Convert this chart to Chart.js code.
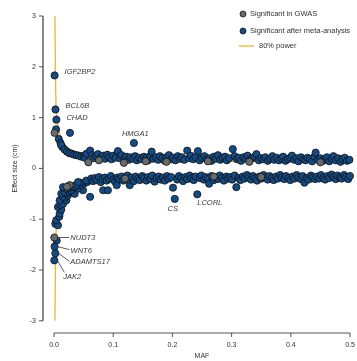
<!DOCTYPE html>
<html>
<head>
<meta charset="utf-8">
<script src="https://cdn.jsdelivr.net/npm/chart.js@4.4.1/dist/chart.umd.min.js"></script>
<style>
  body { margin: 0; background: #fff; }
  canvas { display: block; }
</style>
</head>
<body>
<canvas id="myChart" width="357" height="361"></canvas>
<script>
// variants significant in the discovery GWAS only  [MAF, effect (cm)]
var gwasPoints = [
  [0.001, 0.70], [0.058, 0.12], [0.076, 0.16], [0.118, 0.11], [0.155, 0.14],
  [0.19, 0.13], [0.26, 0.14], [0.33, 0.13], [0.45, 0.12],
  [0.0005, -1.36], [0.0265, -0.33], [0.022, -0.36], [0.12, -0.2], [0.27, -0.16], [0.35, -0.17]
];

// variants significant after the meta-analysis  [MAF, effect (cm)]
var metaUpper = [
  [0.001, 1.83], [0.0025, 1.16], [0.004, 0.96], [0.0035, 0.77], [0.027, 0.70],
  [0.008, 0.58], [0.011, 0.50], [0.014, 0.42], [0.012, 0.46], [0.018, 0.37], [0.022, 0.33],
  [0.026, 0.30], [0.03, 0.29], [0.034, 0.27], [0.038, 0.26], [0.042, 0.25], [0.046, 0.23],
  [0.05, 0.25], [0.052, 0.21], [0.055, 0.29], [0.061, 0.35], [0.064, 0.26], [0.067, 0.2],
  [0.071, 0.24], [0.074, 0.28], [0.079, 0.21], [0.083, 0.25], [0.086, 0.19], [0.09, 0.27],
  [0.093, 0.22], [0.097, 0.18], [0.1, 0.25], [0.104, 0.21], [0.108, 0.34], [0.111, 0.2],
  [0.114, 0.26], [0.119, 0.19], [0.122, 0.23], [0.126, 0.17], [0.129, 0.22], [0.133, 0.19],
  [0.135, 0.5], [0.137, 0.24], [0.14, 0.16], [0.144, 0.21], [0.148, 0.18], [0.152, 0.23],
  [0.156, 0.2], [0.159, 0.16], [0.163, 0.25], [0.165, 0.33], [0.168, 0.19], [0.172, 0.22],
  [0.176, 0.17], [0.179, 0.24], [0.183, 0.2], [0.187, 0.15], [0.19, 0.22], [0.194, 0.26],
  [0.198, 0.18], [0.201, 0.21], [0.205, 0.16], [0.209, 0.24], [0.213, 0.19], [0.216, 0.22],
  [0.22, 0.17], [0.225, 0.35], [0.228, 0.2], [0.231, 0.25], [0.235, 0.18], [0.239, 0.22],
  [0.243, 0.34], [0.246, 0.16], [0.25, 0.21], [0.254, 0.24], [0.258, 0.18], [0.262, 0.2],
  [0.266, 0.15], [0.27, 0.23], [0.273, 0.19], [0.277, 0.26], [0.281, 0.17], [0.285, 0.21],
  [0.289, 0.23], [0.292, 0.16], [0.296, 0.2], [0.302, 0.38], [0.305, 0.24], [0.309, 0.18],
  [0.312, 0.21], [0.316, 0.15], [0.32, 0.22], [0.324, 0.19], [0.327, 0.25], [0.331, 0.17],
  [0.335, 0.2], [0.339, 0.23], [0.342, 0.28], [0.346, 0.16], [0.35, 0.2], [0.354, 0.18],
  [0.357, 0.22], [0.361, 0.15], [0.365, 0.19], [0.369, 0.24], [0.372, 0.17], [0.376, 0.21],
  [0.38, 0.16], [0.384, 0.2], [0.387, 0.23], [0.391, 0.15], [0.395, 0.18], [0.399, 0.21],
  [0.402, 0.25], [0.406, 0.17], [0.41, 0.2], [0.413, 0.14], [0.417, 0.22], [0.421, 0.18],
  [0.425, 0.16], [0.428, 0.21], [0.432, 0.19], [0.436, 0.14], [0.44, 0.23], [0.442, 0.31],
  [0.446, 0.17], [0.45, 0.2], [0.454, 0.15], [0.458, 0.18], [0.461, 0.22], [0.465, 0.14],
  [0.469, 0.19], [0.472, 0.24], [0.476, 0.16], [0.48, 0.2], [0.484, 0.13], [0.487, 0.18],
  [0.491, 0.21], [0.495, 0.15], [0.499, 0.17]
];

var metaLower = [
  [0.0005, -1.81], [0.0022, -1.67], [0.001, -1.54], [0.0045, -1.42], [0.0022, -1.09],
  [0.0067, -1.12], [0.0039, -1.02], [0.009, -0.95], [0.0096, -0.89], [0.0123, -0.81],
  [0.0067, -0.76], [0.011, -0.72], [0.0152, -0.70], [0.0096, -0.63], [0.0207, -0.63],
  [0.018, -0.58], [0.0152, -0.56], [0.0236, -0.53], [0.0123, -0.50], [0.0349, -0.50],
  [0.022, -0.49], [0.018, -0.47], [0.025, -0.45], [0.0292, -0.43], [0.049, -0.43],
  [0.0207, -0.40], [0.04, -0.40], [0.027, -0.38], [0.0152, -0.37], [0.0349, -0.37],
  [0.031, -0.35], [0.046, -0.33], [0.038, -0.32], [0.05, -0.30], [0.044, -0.28],
  [0.0405, -0.27], [0.056, -0.27], [0.0545, -0.24], [0.061, -0.56], [0.063, -0.20],
  [0.066, -0.25], [0.069, -0.19], [0.072, -0.23], [0.076, -0.17], [0.079, -0.27],
  [0.082, -0.21], [0.083, -0.43], [0.086, -0.18], [0.089, -0.24], [0.091, -0.43],
  [0.093, -0.2], [0.096, -0.15], [0.1, -0.22], [0.103, -0.26], [0.106, -0.33],
  [0.107, -0.18], [0.11, -0.21], [0.114, -0.16], [0.117, -0.24], [0.121, -0.19],
  [0.124, -0.14], [0.128, -0.33], [0.128, -0.22], [0.131, -0.18], [0.135, -0.25],
  [0.138, -0.16], [0.142, -0.2], [0.145, -0.23], [0.149, -0.15], [0.152, -0.19],
  [0.156, -0.24], [0.159, -0.17], [0.163, -0.21], [0.166, -0.14], [0.17, -0.26],
  [0.173, -0.19], [0.177, -0.16], [0.18, -0.22], [0.184, -0.18], [0.187, -0.24],
  [0.191, -0.15], [0.194, -0.2], [0.198, -0.17], [0.201, -0.38], [0.204, -0.6],
  [0.208, -0.22], [0.211, -0.15], [0.215, -0.19], [0.218, -0.25], [0.222, -0.17],
  [0.225, -0.21], [0.229, -0.14], [0.232, -0.2], [0.236, -0.23], [0.239, -0.16],
  [0.242, -0.51], [0.246, -0.19], [0.249, -0.14], [0.253, -0.22], [0.256, -0.17],
  [0.26, -0.2], [0.262, -0.3], [0.266, -0.15], [0.27, -0.23], [0.273, -0.18],
  [0.277, -0.21], [0.28, -0.14], [0.284, -0.19], [0.287, -0.24], [0.291, -0.16],
  [0.294, -0.2], [0.298, -0.17], [0.301, -0.22], [0.305, -0.14], [0.308, -0.37],
  [0.312, -0.19], [0.315, -0.23], [0.319, -0.16], [0.322, -0.2], [0.326, -0.13],
  [0.329, -0.18], [0.333, -0.22], [0.336, -0.15], [0.34, -0.19], [0.343, -0.24],
  [0.347, -0.16], [0.35, -0.2], [0.354, -0.13], [0.357, -0.18], [0.361, -0.22],
  [0.364, -0.15], [0.368, -0.19], [0.371, -0.23], [0.375, -0.16], [0.378, -0.2],
  [0.382, -0.13], [0.385, -0.18], [0.389, -0.21], [0.392, -0.15], [0.396, -0.19],
  [0.399, -0.23], [0.403, -0.16], [0.406, -0.2], [0.41, -0.13], [0.413, -0.18],
  [0.417, -0.21], [0.42, -0.15], [0.423, -0.28], [0.427, -0.19], [0.43, -0.22],
  [0.434, -0.14], [0.437, -0.18], [0.441, -0.21], [0.444, -0.16], [0.448, -0.2],
  [0.451, -0.13], [0.455, -0.18], [0.458, -0.22], [0.462, -0.15], [0.465, -0.19],
  [0.469, -0.12], [0.472, -0.17], [0.476, -0.21], [0.479, -0.14], [0.483, -0.18],
  [0.486, -0.2], [0.49, -0.13], [0.493, -0.17], [0.497, -0.21], [0.5, -0.15]
];

// 80% power threshold
var powerMaf = [0.0015, 0.002, 0.0025, 0.003, 0.004, 0.006, 0.009, 0.013, 0.018, 0.025,
                0.035, 0.05, 0.07, 0.1, 0.15, 0.2, 0.3, 0.4, 0.5];
var powerUp  = [3.0, 2.4, 1.85, 1.45, 1.12, 0.88, 0.7, 0.57, 0.47, 0.39,
                0.32, 0.26, 0.22, 0.19, 0.16, 0.15, 0.14, 0.13, 0.13];
var powerDown = [-3.0, -2.4, -1.85, -1.45, -1.12, -0.88, -0.7, -0.57, -0.47, -0.39,
                 -0.32, -0.26, -0.22, -0.19, -0.16, -0.15, -0.14, -0.13, -0.13];

var xTicks = [0.0, 0.1, 0.2, 0.3, 0.4, 0.5];
var yTicks = [-3, -2, -1, 0, 1, 2, 3];

// named loci: gene, MAF, effect
var genes = [
  ['IGF2BP2', 0.001, 1.83], ['BCL6B', 0.0025, 1.16], ['CHAD', 0.004, 0.96],
  ['HMGA1', 0.135, 0.5], ['CS', 0.204, -0.6], ['LCORL', 0.242, -0.51],
  ['NUDT3', 0.0005, -1.36], ['WNT6', 0.001, -1.54], ['ADAMTS17', 0.0022, -1.67],
  ['JAK2', 0.0005, -1.81]
];
// where each gene name sits relative to its point (px), and optional leader end
var geneLabelPos = {
  IGF2BP2: { dx: 10, dy: -4, align: 'left' },
  BCL6B: { dx: 10, dy: -4, align: 'left' },
  CHAD: { dx: 10, dy: -2, align: 'left' },
  HMGA1: { dx: -12, dy: -9, align: 'left' },
  CS: { dx: -2, dy: 10, align: 'center' },
  LCORL: { dx: 0, dy: 9, align: 'left' },
  NUDT3: { dx: 16, dy: 0, align: 'left', lead: [15, 0] },
  WNT6: { dx: 16, dy: 4, align: 'left', lead: [15, 3] },
  ADAMTS17: { dx: 15, dy: 9, align: 'left', lead: [14, 8] },
  JAK2: { dx: 9, dy: 17, align: 'left', lead: [10, 12] }
};

var BLUE = '#124b86';
var GREY = '#6a6a6a';
var ORANGE = '#f7b031';
var FONT = '"Liberation Sans", Arial, sans-serif';

function toXY(list) {
  return list.map(function (p) { return { x: p[0], y: p[1] }; });
}
function powerXY(ys) {
  return powerMaf.map(function (m, i) { return { x: m, y: ys[i] }; });
}

var pointStyle = {
  pointRadius: 3.6,
  pointBorderWidth: 0.8,
  pointBorderColor: '#111',
  showLine: false,
  clip: false
};

var axesPlugin = {
  id: 'axesPlugin',
  afterDraw: function (chart) {
    var c = chart.ctx;
    var xs = chart.scales.x, ys = chart.scales.y;
    var area = chart.chartArea;
    c.save();

    // y axis, offset to the left of the data
    c.strokeStyle = '#555';
    c.lineWidth = 1.4;
    c.beginPath();
    c.moveTo(area.left, ys.getPixelForValue(3));
    c.lineTo(area.left, ys.getPixelForValue(-3));
    c.stroke();
    c.lineWidth = 1;
    c.fillStyle = '#333';
    c.font = '7px ' + FONT;
    c.textAlign = 'right';
    c.textBaseline = 'middle';
    yTicks.forEach(function (t) {
      var py = ys.getPixelForValue(t);
      c.beginPath();
      c.moveTo(area.left - 4, py);
      c.lineTo(area.left, py);
      c.stroke();
      c.fillText(String(t), area.left - 7, py);
    });

    // x axis along the bottom
    c.beginPath();
    c.moveTo(xs.getPixelForValue(0), area.bottom);
    c.lineTo(xs.getPixelForValue(0.5), area.bottom);
    c.stroke();
    c.textAlign = 'center';
    xTicks.forEach(function (t) {
      var px = xs.getPixelForValue(t);
      c.beginPath();
      c.moveTo(px, area.bottom);
      c.lineTo(px, area.bottom + 4);
      c.stroke();
      c.fillText(t.toFixed(1), px, area.bottom + 12);
    });

    // axis titles
    c.fillText('MAF', (xs.getPixelForValue(0) + xs.getPixelForValue(0.5)) / 2, area.bottom + 23);
    c.save();
    c.translate(15, ys.getPixelForValue(0));
    c.rotate(-Math.PI / 2);
    c.fillText('Effect size (cm)', 0, 0);
    c.restore();

    // gene names
    c.font = 'italic 7.5px ' + FONT;
    c.fillStyle = '#3a3a3a';
    c.strokeStyle = '#333';
    c.lineWidth = 0.8;
    genes.forEach(function (g) {
      var pos = geneLabelPos[g[0]];
      var px = xs.getPixelForValue(g[1]), py = ys.getPixelForValue(g[2]);
      if (pos.lead) {
        c.beginPath();
        c.moveTo(px + 3, py);
        c.lineTo(px + pos.lead[0], py + pos.lead[1]);
        c.stroke();
      }
      c.textAlign = pos.align;
      c.fillText(g[0], px + pos.dx, py + pos.dy);
    });

    // legend, top right
    var lx = 243;
    var rows = [
      { y: 14, color: GREY, text: 'Significant in GWAS' },
      { y: 31, color: BLUE, text: 'Significant after meta-analysis' }
    ];
    c.font = '7.5px ' + FONT;
    c.textAlign = 'left';
    rows.forEach(function (r) {
      c.beginPath();
      c.arc(lx, r.y, 3, 0, Math.PI * 2);
      c.fillStyle = r.color;
      c.fill();
      c.strokeStyle = '#111';
      c.lineWidth = 0.8;
      c.stroke();
      c.fillStyle = '#333';
      c.fillText(r.text, lx + 7, r.y);
    });
    c.strokeStyle = ORANGE;
    c.lineWidth = 1.3;
    c.beginPath();
    c.moveTo(239, 46);
    c.lineTo(254, 46);
    c.stroke();
    c.fillStyle = '#333';
    c.fillText('80% power', 259, 46);

    c.restore();
  }
};

var ctx = document.getElementById('myChart').getContext('2d');
var myChart = new Chart(ctx, {
  type: 'scatter',
  data: {
    datasets: [
      {
        type: 'line', data: powerXY(powerUp), borderColor: ORANGE, borderWidth: 1.3,
        pointRadius: 0, fill: false, tension: 0.3, order: 3, clip: false
      },
      {
        type: 'line', data: powerXY(powerDown), borderColor: ORANGE, borderWidth: 1.3,
        pointRadius: 0, fill: false, tension: 0.3, order: 3, clip: false
      },
      Object.assign({ data: toXY(gwasPoints), backgroundColor: GREY, order: 1 }, pointStyle),
      Object.assign({ data: toXY(metaUpper.concat(metaLower)), backgroundColor: BLUE, order: 2 }, pointStyle)
    ]
  },
  options: {
    responsive: false,
    animation: false,
    devicePixelRatio: 1,
    layout: { padding: { left: 43, right: 7, top: 16, bottom: 28 } },
    scales: {
      x: { type: 'linear', display: false, min: -0.0186, max: 0.5 },
      y: { type: 'linear', display: false, min: -3.24, max: 3 }
    },
    plugins: {
      legend: { display: false },
      tooltip: { enabled: false }
    }
  },
  plugins: [axesPlugin]
});
</script>
</body>
</html>
